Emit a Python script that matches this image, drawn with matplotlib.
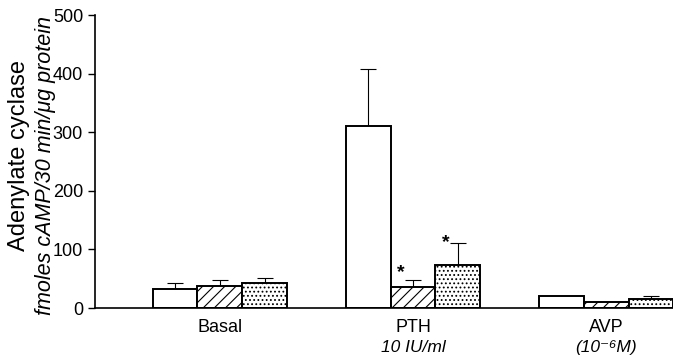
import numpy as np
import matplotlib
matplotlib.use("Agg")
import matplotlib.pyplot as plt

plt.rcParams['font.family'] = ['Liberation Sans', 'DejaVu Sans']
plt.rcParams['hatch.linewidth'] = 0.8

groups = ['Basal', 'PTH', 'AVP']
sub_labels = ['', '10 IU/ml', '(10⁻⁶M)']
# three series per group: open, hatched, dotted
open_vals = [32, 310, 20]
open_err = [11, 98, 1]
hatch_vals = [37, 36, 10]
hatch_err = [10, 12, 1]
dot_vals = [42, 73, 15]
dot_err = [10, 38, 5]
# significance stars: (group index, series index, gap above error bar)
stars = [(1, 1, 13), (1, 2, 0)]

fig = plt.figure(figsize=(6.73, 3.59), dpi=100)
ax = fig.add_axes([0.141, 0.142, 0.859, 0.816])

x = np.arange(len(groups))
w = 0.233
series = [(open_vals, open_err, ''), (hatch_vals, hatch_err, '///'), (dot_vals, dot_err, '....')]
for i, (vals, errs, hatch) in enumerate(series):
    pos = x + (i - 1) * w
    ax.bar(pos, vals, width=w, color='white', edgecolor='black', linewidth=1.4,
           hatch=hatch, zorder=2)
    ax.errorbar(pos, vals, yerr=[np.zeros(len(vals)), errs], fmt='none',
                ecolor='black', elinewidth=0.8, capsize=6, capthick=0.8, zorder=1)

for g, s, gap in stars:
    vals, errs, _ = series[s]
    ax.text(x[g] + (s - 1) * w - 0.062, vals[g] + errs[g] + gap, '*', ha='center',
            va='center', fontsize=14, fontweight='bold')

ax.set_xlim(-0.648, 2.347)
ax.set_ylim(0, 500)
ax.set_yticks([0, 100, 200, 300, 400, 500])
ax.tick_params(axis='y', labelsize=13, length=5, width=1, direction='out')
ax.set_xticks(x)
ax.set_xticklabels(groups, fontsize=13)
ax.tick_params(axis='x', length=0, pad=8)
for g, lab in enumerate(sub_labels):
    if lab:
        ax.text(x[g], -0.15, lab, transform=ax.get_xaxis_transform(), ha='center',
                va='baseline', fontsize=12.5, style='italic')

for sp in ['top', 'right']:
    ax.spines[sp].set_visible(False)
ax.spines['left'].set_linewidth(1.2)
ax.spines['bottom'].set_linewidth(1.2)

fig.text(0.028, 0.568, 'Adenylate cyclase', rotation=90, ha='center', va='center', fontsize=17)
fig.text(0.067, 0.54, 'fmoles cAMP/30 min/μg protein', rotation=90, ha='center',
         va='center', fontsize=15.5, style='italic')

fig.savefig('out.png', dpi=100)
